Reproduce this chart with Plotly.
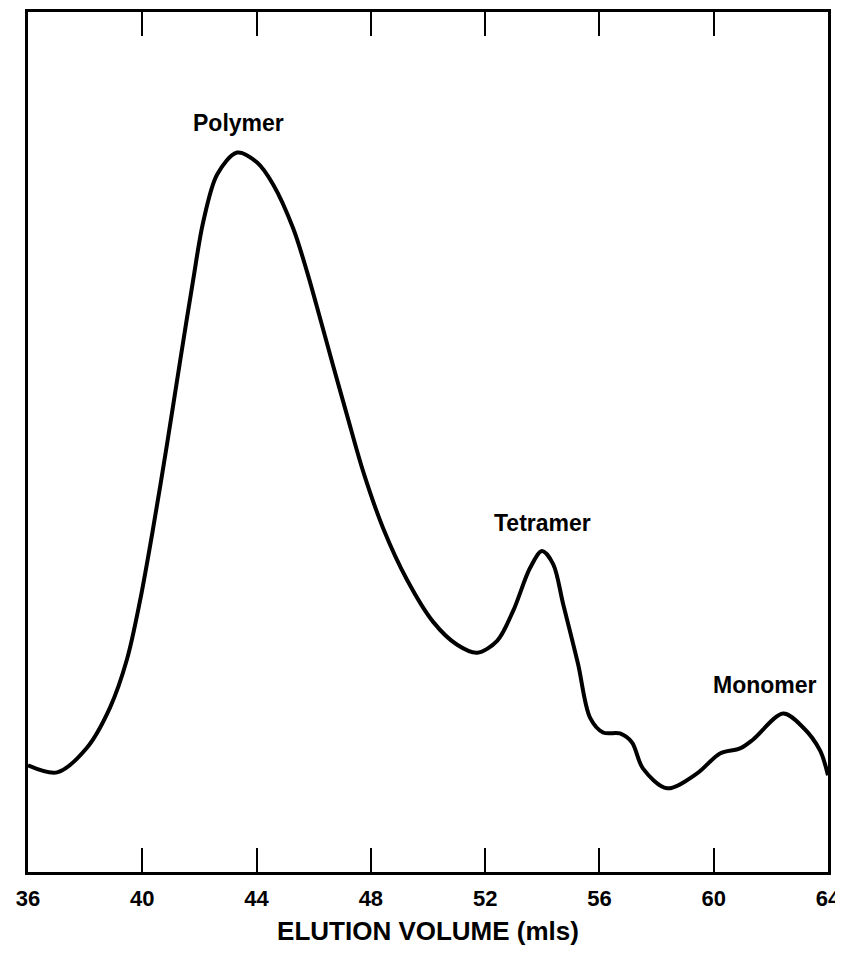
import plotly.graph_objects as go

# Elution volume (mls) and detector response (arbitrary units)
elution_volume = [36.00, 37.02, 38.07, 38.87, 39.47, 39.92, 40.38, 40.87, 41.32, 41.78,
                  42.13, 42.62, 43.32, 44.02, 44.58, 45.28, 45.77, 46.22, 46.68, 47.17,
                  47.73, 48.43, 49.27, 50.18, 51.02, 51.72, 52.42, 52.98, 53.57, 53.99,
                  54.38, 54.73, 55.25, 55.67, 56.13, 56.72, 57.14, 57.52, 58.37, 59.42,
                  60.22, 60.92, 61.38, 62.43, 63.13, 63.72, 64.00]
response = [107, 100, 125, 165, 214, 272, 345, 430, 512, 594,
            652, 700, 722, 712, 690, 646, 602, 556, 508, 458,
            402, 345, 293, 251, 228, 220, 232, 262, 305, 322,
            309, 269, 209, 155, 140, 139, 130, 104, 84, 99,
            119, 124, 133, 159, 145, 122, 97]

tick_vals = [36, 40, 44, 48, 52, 56, 60, 64]
tick_text = ["36", "40", "44", "48", "52", "56", "60", "64"]

peak_labels = ["Polymer", "Tetramer", "Monomer"]
peak_x = [43.35, 53.99, 61.8]
peak_y = [752, 350, 188]

FONT = "Liberation Sans"

fig = go.Figure()
fig.add_trace(go.Scatter(
    x=elution_volume, y=response, mode="lines",
    line=dict(color="black", width=4, shape="spline", smoothing=0.9),
    hoverinfo="skip", showlegend=False,
))

for t, xx, yy in zip(peak_labels, peak_x, peak_y):
    fig.add_annotation(x=xx, y=yy, text="<b>" + t + "</b>", showarrow=False,
                       font=dict(family=FONT, size=23, color="black"))

fig.update_layout(
    width=835, height=938,
    margin=dict(l=20, r=15, t=1, b=74),
    paper_bgcolor="white", plot_bgcolor="white",
    font=dict(family=FONT, color="black"),
    xaxis=dict(
        range=[36, 64], tickmode="array", tickvals=tick_vals, ticktext=tick_text,
        showline=True, linecolor="black", linewidth=2.5, mirror="ticks",
        ticks="inside", ticklen=24, tickwidth=2, tickcolor="black",
        ticklabelstandoff=5, ticklabeloverflow="allow",
        showgrid=False, zeroline=False,
        tickfont=dict(family=FONT, size=22, color="black", weight="bold"),
        title=dict(text="<b>ELUTION VOLUME (mls)</b>", standoff=14,
                   font=dict(family=FONT, size=26, color="black")),
    ),
    yaxis=dict(
        range=[0, 863], showline=True, linecolor="black", linewidth=2.5, mirror=True,
        ticks="", showticklabels=False, showgrid=False, zeroline=False,
    ),
)

fig.write_html("out.html")
